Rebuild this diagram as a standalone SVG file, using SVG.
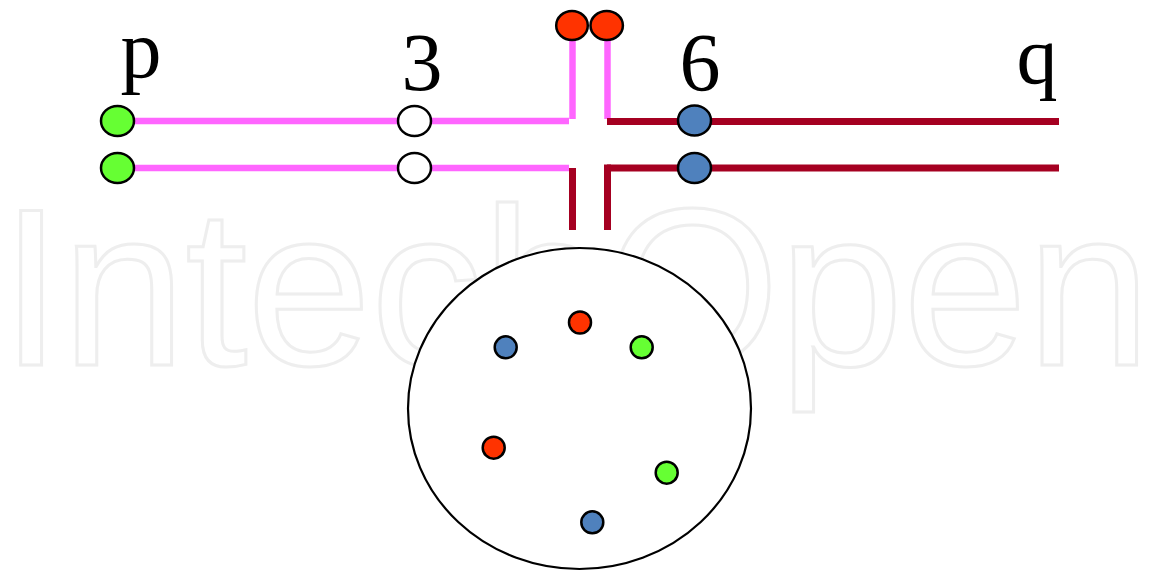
<svg xmlns="http://www.w3.org/2000/svg" width="1151" height="572" viewBox="0 0 1151 572">
  <style>
    .wm { font-family: "Liberation Sans", Arial, sans-serif; font-size: 224px; fill: none; stroke: #eeeeee; stroke-width: 3; }
    .lbl { font-family: "Liberation Serif", "Times New Roman", serif; font-size: 82px; fill: #000; text-anchor: middle; }
    .pink { stroke: #FF66FF; stroke-width: 6.5; fill: none; stroke-linecap: butt; }
    .dred { stroke: #A50021; stroke-width: 7; fill: none; stroke-linecap: butt; }
    .dot { stroke: #000; stroke-width: 2.5; }
    .green { fill: #66FF33; }
    .blue { fill: #4F81BD; }
    .red { fill: #FF3300; }
    .white { fill: #FFFFFF; }
  </style>

  <rect width="1151" height="572" fill="#FFFFFF"/>

  <!-- background wordmark -->
  <text class="wm" x="0" y="365" textLength="1151" lengthAdjust="spacing">IntechOpen</text>

  <!-- strands -->
  <g id="connectors">
    <line class="pink" x1="117" y1="121" x2="569" y2="121"/>
    <line class="pink" x1="117" y1="168" x2="569" y2="168"/>
    <line class="pink" x1="572.5" y1="40" x2="572.5" y2="119"/>
    <line class="pink" x1="607.5" y1="40" x2="607.5" y2="119"/>
    <line class="dred" x1="607" y1="121.5" x2="1059" y2="121.5"/>
    <line class="dred" x1="607" y1="168" x2="1059" y2="168"/>
    <line class="dred" x1="572.5" y1="168" x2="572.5" y2="230"/>
    <line class="dred" x1="607.5" y1="164.5" x2="607.5" y2="230"/>
  </g>

  <!-- labels -->
  <g id="labels">
    <text class="lbl" x="141" y="77">p</text>
    <text class="lbl" x="422" y="90">3</text>
    <text class="lbl" x="700" y="90">6</text>
    <text class="lbl" x="1037" y="83">q</text>
  </g>

  <!-- strand end beads -->
  <g id="node-p-top"><ellipse class="dot green" cx="117.5" cy="121" rx="16.5" ry="15"/></g>
  <g id="node-p-bottom"><ellipse class="dot green" cx="117.5" cy="168" rx="16.5" ry="15"/></g>
  <g id="node-3-top"><ellipse class="dot white" cx="414.5" cy="121" rx="16.5" ry="15"/></g>
  <g id="node-3-bottom"><ellipse class="dot white" cx="414.5" cy="168" rx="16.5" ry="15"/></g>
  <g id="node-6-top"><ellipse class="dot blue" cx="694.5" cy="120.5" rx="16.5" ry="15"/></g>
  <g id="node-6-bottom"><ellipse class="dot blue" cx="694.5" cy="168" rx="16.5" ry="15"/></g>
  <g id="node-top-left"><ellipse class="dot red" cx="572" cy="25.5" rx="15.8" ry="14.5"/></g>
  <g id="node-top-right"><ellipse class="dot red" cx="606.7" cy="25.5" rx="16.2" ry="14.5"/></g>

  <!-- pool -->
  <g id="pool">
    <ellipse cx="579.5" cy="408.5" rx="171.5" ry="160.5" fill="#FFFFFF" stroke="#000" stroke-width="2.2"/>
    <circle class="dot red" cx="580" cy="322.5" r="11"/>
    <circle class="dot blue" cx="505.7" cy="347.3" r="11"/>
    <circle class="dot green" cx="641.7" cy="347.3" r="11"/>
    <circle class="dot red" cx="493.7" cy="447.7" r="11"/>
    <circle class="dot green" cx="666.7" cy="472.7" r="11"/>
    <circle class="dot blue" cx="592.3" cy="522.3" r="11"/>
  </g>
</svg>
